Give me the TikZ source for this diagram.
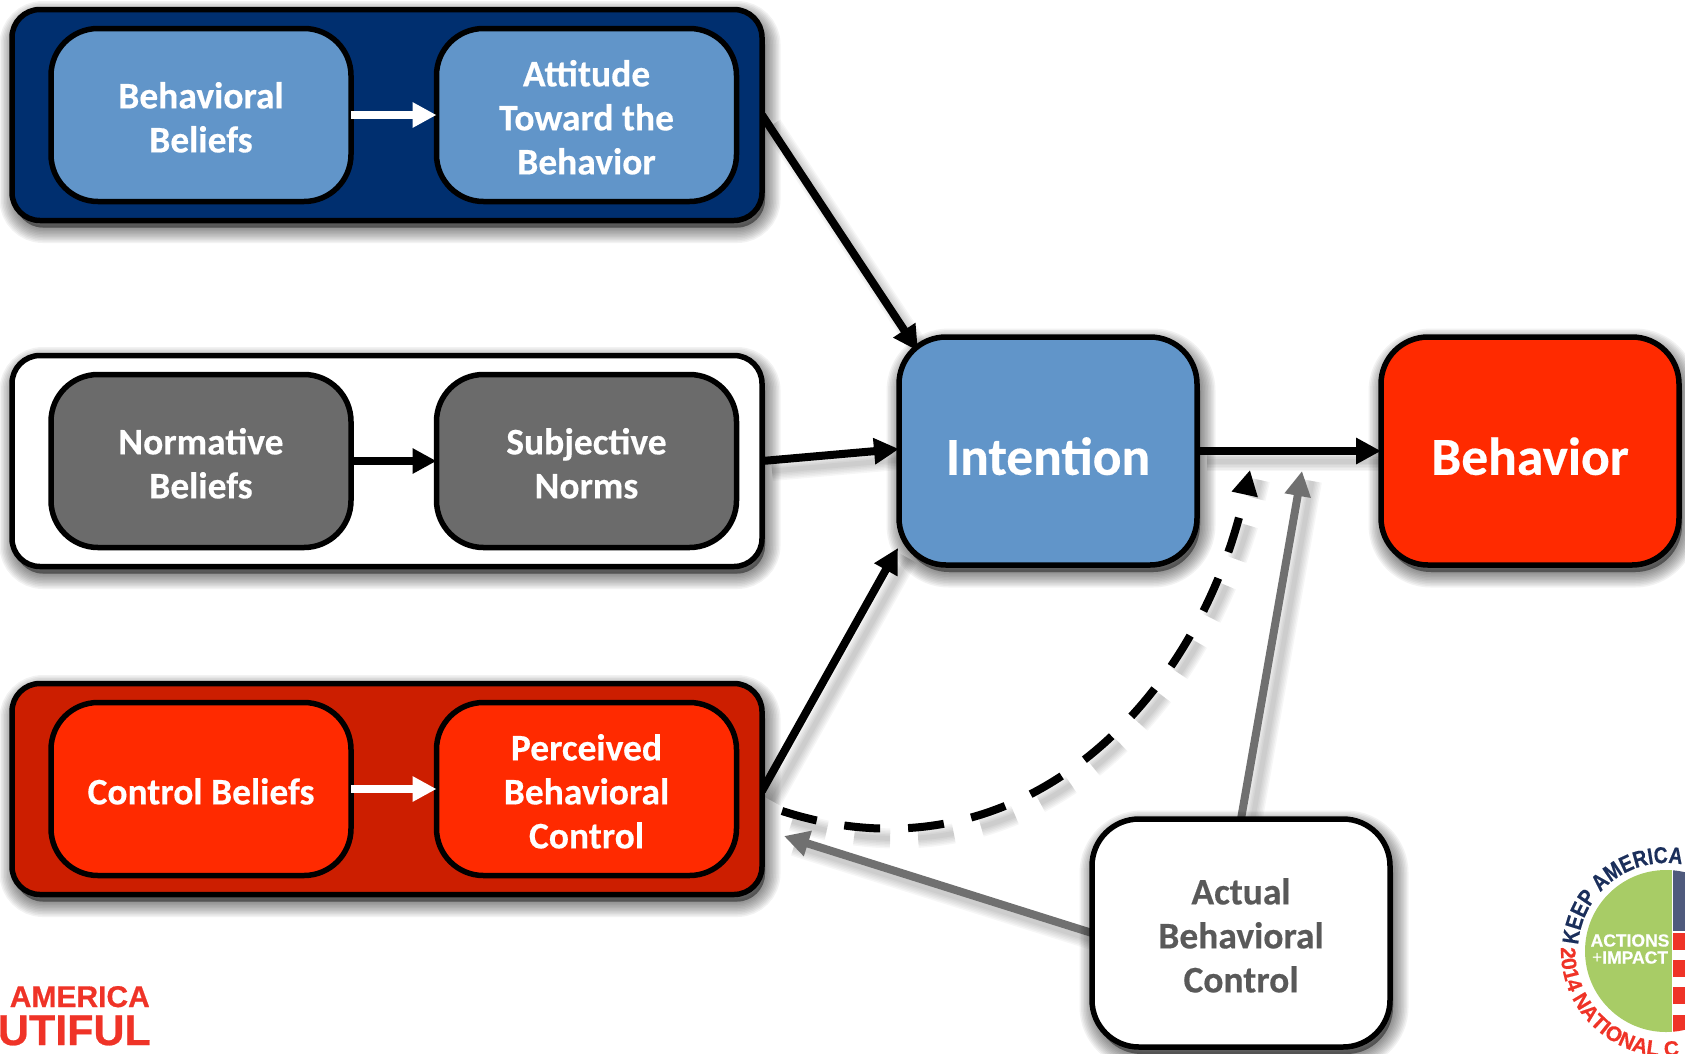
\documentclass[tikz,border=0pt]{standalone}
\usepackage{fontspec}
\setmainfont[BoldFeatures={FakeBold=0.35}]{Carlito}
\newfontfamily\logofont[BoldFeatures={FakeBold=0.6}]{Liberation Sans}
\newfontfamily\logonarrow[FakeStretch=0.84,BoldFeatures={FakeStretch=0.84,FakeBold=0.5}]{Liberation Sans}
\usetikzlibrary{arrows.meta,calc,decorations.text}
\pgfdeclarelayer{bg}
\pgfsetlayers{bg,main}
\newcommand{\firstline}{\rule{0pt}{31pt}}
\definecolor{navyfill}{HTML}{002F6F}
\definecolor{steel}{HTML}{6195C9}
\definecolor{slate}{HTML}{6B6B6B}
\definecolor{darkred}{HTML}{CC1E00}
\definecolor{brightred}{HTML}{FF2A00}
\definecolor{greyarrow}{HTML}{707070}
\definecolor{greytext}{HTML}{595959}
\definecolor{logored}{HTML}{EF3327}
\definecolor{logonavy}{HTML}{1B2F5B}
\definecolor{logogreen}{HTML}{A8CC66}
\definecolor{logoblue}{HTML}{4F5A7D}
\tikzset{
  x=1pt,y=1pt,
  shadowpass/.style={preaction={draw=black,fill=black,opacity=.05,line width=#1,transform canvas={shift={(3pt,-7pt)}}}},
  boxshadow/.style={shadowpass=1pt,shadowpass=4pt,shadowpass=7pt,shadowpass=10pt,shadowpass=13pt,shadowpass=16pt,shadowpass=19pt,shadowpass=22pt,shadowpass=25pt,shadowpass=28pt,shadowpass=31pt},
  lineshadowpass/.style={preaction={draw=black,arrows=-,opacity=.035,line width=#1,transform canvas={shift={(10pt,-10pt)}}}},
  lineshadow/.style={lineshadowpass=5pt,lineshadowpass=8pt,lineshadowpass=11pt,lineshadowpass=14pt,lineshadowpass=17pt,lineshadowpass=20pt},
  dashpat/.style={dash pattern=on 36pt off 28pt},
  dashshadowpass/.style={preaction={draw=black,arrows=-,dashpat,opacity=.035,line width=#1,transform canvas={shift={(10pt,-10pt)}}}},
  dashshadow/.style={dashshadowpass=5pt,dashshadowpass=8pt,dashshadowpass=11pt,dashshadowpass=14pt,dashshadowpass=17pt,dashshadowpass=20pt},
  basebox/.style={draw=black,line width=5.5pt,rounded corners=47pt,align=center,outer sep=0pt,inner sep=0pt,
    font=\bfseries\fontsize{37.5}{44}\selectfont,text=white},
  rowbox/.style={basebox,minimum width=750pt,minimum height=211pt,rounded corners=28pt,boxshadow},
  innerbox/.style={basebox,minimum width=300pt,minimum height=173pt},
  bigbox/.style={basebox,minimum width=298pt,minimum height=228pt,boxshadow},
  bigtext/.style={font=\bfseries\fontsize{53.5}{60}\selectfont},
  conn/.style={line width=8pt,-{Triangle[length=25pt,width=25pt]},draw=black},
  innerconn/.style={line width=8pt,-{Triangle[length=24pt,width=24pt]}},
}
\begin{document}
\begin{tikzpicture}
\useasboundingbox (0,0) rectangle (1685,-1053);
% row frames
\node[rowbox,fill=navyfill] (rowA) at (387,-115) {};
\node[rowbox,fill=white] (rowB) at (387,-461) {};
\node[rowbox,fill=darkred] (rowC) at (387,-789) {};
% inner boxes
\node[innerbox,fill=steel] (bb) at (201,-115) {\firstline Behavioral\\Beliefs};
\node[innerbox,fill=steel] (att) at (586.5,-115) {\firstline Attitude\\Toward the\\Behavior};
\node[innerbox,fill=slate] (nb) at (201,-461) {\firstline Normative\\Beliefs};
\node[innerbox,fill=slate] (sn) at (586.5,-461) {\firstline Subjective\\Norms};
\node[innerbox,fill=brightred] (cb) at (201,-789) {\firstline Control Beliefs};
\node[innerbox,fill=brightred] (pbc) at (586.5,-789) {\firstline Perceived\\Behavioral\\Control};
% main boxes
\node[bigbox,fill=steel,bigtext] (int) at (1048,-451) {\rule{0pt}{48pt}Intention};
\node[bigbox,fill=brightred,bigtext] (beh) at (1530,-451) {\rule{0pt}{48pt}Behavior};
\node[bigbox,fill=white,text=greytext] (abc) at (1241,-933) {\firstline Actual\\Behavioral\\Control};
% inner connectors
\draw[innerconn,draw=white,fill=white] (bb.east) -- (att.west);
\draw[innerconn,draw=black] (nb.east) -- (sn.west);
\draw[innerconn,draw=white,fill=white] (cb.east) -- (pbc.west);
% connector ends
\coordinate (intTL) at ([shift={(19pt,-14pt)}]int.north west);
\coordinate (intL) at ([yshift=2pt]int.west);
\coordinate (intBL) at ([shift={(-1pt,17pt)}]int.south west);
\coordinate (rowCup) at ([yshift=-2pt]rowC.east);
\coordinate (dashStart) at ([shift={(20pt,-22pt)}]rowC.east);
\coordinate (dashEnd) at (1250,-470);
\coordinate (greyEnd) at (1302,-471);
\coordinate (greyLeftEnd) at (784,-836);
\begin{pgfonlayer}{bg}
\draw[conn,lineshadow] (rowA.east) -- (intTL);
\draw[conn,lineshadow] (rowB.east) -- (intL);
\draw[conn,lineshadow] (rowCup) -- (intBL);
\draw[conn,lineshadow] (int.east) -- (beh.west);
\draw[conn,dashshadow,dashpat] (dashStart) .. controls (1020,-888) and (1200,-700) .. (dashEnd);
\draw[conn,lineshadow,draw=greyarrow,fill=greyarrow] (abc.north) -- (greyEnd);
\draw[conn,lineshadow,draw=greyarrow,fill=greyarrow] (abc.west) -- (greyLeftEnd);
\end{pgfonlayer}
% logos
\node[anchor=base east,inner sep=0pt,text=logored,font=\logofont\bfseries\fontsize{30}{30}\selectfont] (logoA) at (150,-1007) {AMERICA};
\node[anchor=base east,inner sep=0pt,text=logored,font=\logofont\bfseries\fontsize{43}{43}\selectfont] (logoB) at (151,-1045) {UTIFUL};
\begin{scope}
\clip (1666,-951) circle (81);
\fill[logogreen] (1580,-860) rectangle (1672,-1040);
\fill[logoblue] (1673,-860) rectangle (1690,-931);
\fill[logored] (1673,-933) rectangle (1690,-950);
\fill[logored] (1673,-960) rectangle (1690,-977);
\fill[logored] (1673,-987) rectangle (1690,-1004);
\fill[logored] (1673,-1015) rectangle (1690,-1032);
\end{scope}
\node[anchor=center,inner sep=0pt,text=white,align=center,font=\logofont\bfseries\fontsize{17.5}{18}\selectfont] (logoC) at (1630,-949) {ACTIONS\\[-1pt]{\fontseries{m}\selectfont +}IMPACT};
\path[decorate,decoration={text along path,raise=0pt,text align=left,
  text={|\logonarrow\bfseries\fontsize{23}{23}\selectfont\color{logonavy}|KEEP AMERICA}}]
  (1666,-951) ++(176:88) arc (176:40:88);
\path[decorate,decoration={text along path,raise=0pt,text align=left,
  text={|\logofont\fontsize{21}{21}\selectfont\bfseries\color{logored}|2014 NATIONAL C}}]
  (1666,-951) ++(178:105) arc (178:300:105);
\end{tikzpicture}
\end{document}
